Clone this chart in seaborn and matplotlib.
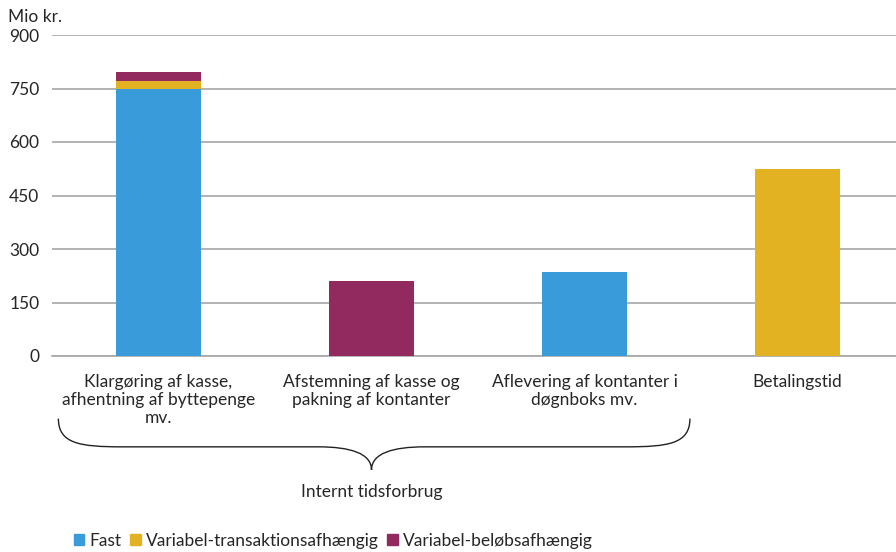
import numpy as np
import pandas as pd
import seaborn as sns
import matplotlib.pyplot as plt
from matplotlib.path import Path
from matplotlib.patches import PathPatch, Patch

# data
categories = ["Klargøring af kasse,\nafhentning af byttepenge\nmv.",
              "Afstemning af kasse og\npakning af kontanter",
              "Aflevering af kontanter i\ndøgnboks mv.",
              "Betalingstid"]
fast = [750, 0, 235, 0]
transaktion = [22, 0, 0, 525]
beloeb = [25, 210, 0, 0]
series_names = ["Fast", "Variabel-transaktionsafhængig", "Variabel-beløbsafhængig"]
colors = ["#3A9BDA", "#E3B222", "#922A5F"]
yticks = [0, 150, 300, 450, 600, 750, 900]

sns.set_style("white")
plt.rcParams['font.family'] = ['Lato', 'DejaVu Sans']

df = pd.DataFrame({"kategori": categories, "Fast": fast,
                   "Trans": transaktion, "Beloeb": beloeb})
df["c1"] = df["Fast"]
df["c2"] = df["c1"] + df["Trans"]
df["c3"] = df["c2"] + df["Beloeb"]

fig = plt.figure(figsize=(8.96, 5.52), dpi=100)
ax = fig.add_axes([52 / 896, 196 / 552, 852 / 896, 321 / 552])

# stacked bars: draw cumulative totals from top down
for col, c in zip(["c3", "c2", "c1"], colors[::-1]):
    sns.barplot(data=df, x="kategori", y=col, color=c, width=0.4,
                saturation=1, ax=ax, zorder=3, linewidth=0, edgecolor="none")

ax.set_xlim(-0.5, 3.5)
ax.set_ylim(0, 900)
ax.set_yticks(yticks)
ax.set_yticklabels([str(v) for v in yticks], fontsize=12.5)
ax.yaxis.grid(True, color="#A6A6A6", lw=1.2, zorder=0)
ax.tick_params(axis="y", length=0, pad=9)
ax.set_xlabel("")
ax.set_ylabel("")

ax.set_xticks(range(4))
ax.set_xticklabels(categories, fontsize=12.5, linespacing=1.15)
ax.tick_params(axis="x", which="major", length=0, pad=13)
ax.set_xticks(np.arange(-0.5, 4.0, 1.0), minor=True)
ax.tick_params(axis="x", which="minor", length=5, color="#A6A6A6", width=1.2)

for s in ["top", "right", "left"]:
    ax.spines[s].set_visible(False)
ax.spines["bottom"].set_color("#A6A6A6")
ax.spines["bottom"].set_linewidth(1.2)

fig.text(8 / 896, 1 - 17 / 552, "Mio kr.", fontsize=12.5, va="center", ha="left")

# brace under the first three categories
tr = ax.get_xaxis_transform()
xl, xc, xr = -0.47, 1.0, 2.495
yt, ym, yb = -0.195, -0.283, -0.355
verts = [(xl, yt), (xl, ym + 0.01), (xl + 0.1, ym), (xl + 0.3, ym),
         (xc - 0.25, ym), (xc - 0.25, ym),
         (xc - 0.1, ym), (xc, ym - 0.02), (xc, yb),
         (xc, ym - 0.02), (xc + 0.1, ym), (xc + 0.25, ym),
         (xr - 0.3, ym), (xr - 0.3, ym),
         (xr - 0.1, ym), (xr, ym + 0.01), (xr, yt)]
codes = [Path.MOVETO, Path.CURVE4, Path.CURVE4, Path.CURVE4,
         Path.LINETO, Path.LINETO,
         Path.CURVE4, Path.CURVE4, Path.CURVE4,
         Path.CURVE4, Path.CURVE4, Path.CURVE4,
         Path.LINETO, Path.LINETO,
         Path.CURVE4, Path.CURVE4, Path.CURVE4]
ax.add_patch(PathPatch(Path(verts, codes), transform=tr, fill=False,
                       lw=1.0, color="#222222", clip_on=False))
ax.text(xc, -0.425, "Internt tidsforbrug", transform=tr, ha="center",
        va="center", fontsize=12.5)

handles = [Patch(color=c, label=n) for c, n in zip(colors, series_names)]
fig.legend(handles=handles, loc="center left", bbox_to_anchor=(74 / 896, 11 / 552),
           ncol=3, frameon=False, fontsize=12.5, handlelength=0.6, handleheight=0.6,
           handletextpad=0.3, columnspacing=0.5, borderaxespad=0, borderpad=0)

fig.savefig("out.png", dpi=100)
